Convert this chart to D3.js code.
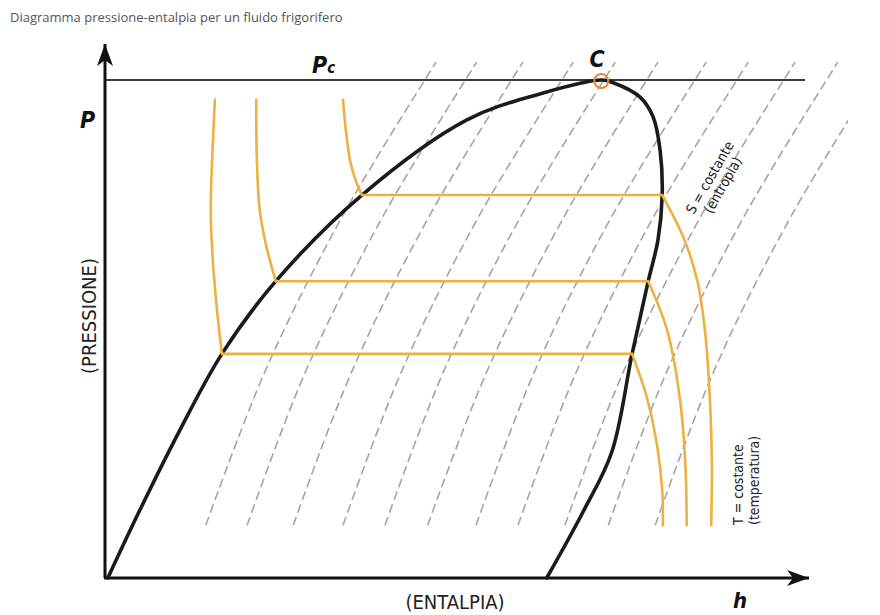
<!DOCTYPE html>
<html>
<head>
<meta charset="utf-8">
<script src="https://cdn.jsdelivr.net/npm/d3@7"></script>
<style>
body{margin:0;background:#fff;}
</style>
</head>
<body>
<div id="chart"></div>
<script>
// schematic p-h diagram, arbitrary units: h 0..100, p 0..100 (Pc = 100)
const domeLeft = [[0.4,0],[5.0,13.7],[10.7,29.7],[16.7,45.0],[24.4,59.6],[36.7,76.9],[51.7,92.0],[62.1,97.2],[70.9,100]];
const domeRight = [[72.7,99.4],[76.4,96.6],[78.3,92.6],[79.3,85.9],[79.6,76.9],[79.0,67.9],[77.6,59.6],[75.3,45.0],[72.4,25.3],[68.3,13.3],[63.1,0]];
const critical = [70.9, 100];

// isotherms: liquid branch, saturation pressure, vapour branch
const satPressure = [45.0, 59.6, 76.9];
const t1Liquid = [[15.7,96.0],[15.3,83.9],[15.1,73.9],[15.4,63.9],[16.0,53.8],[16.7,45.0]];
const t1Vapor  = [[75.3,45.0],[77.4,36.3],[78.9,26.3],[79.6,17.7],[79.7,10.6]];
const t2Liquid = [[21.6,96.0],[21.7,83.9],[22.1,73.9],[23.0,66.9],[24.4,59.6]];
const t2Vapor  = [[77.6,59.6],[80.3,49.8],[82.1,36.3],[82.9,23.1],[83.1,10.6]];
const t3Liquid = [[34.0,96.0],[34.4,90.0],[35.0,83.9],[35.7,80.3],[36.7,76.9]];
const t3Vapor  = [[79.6,76.9],[82.6,68.5],[84.6,59.8],[85.7,49.8],[86.4,36.3],[86.7,23.1],[86.6,10.6]];

// isentropes: h read at these pressure levels
const sLevels = [10.6, 41.6, 72.6, 103.6];
const sLines = [
	[14.4,22.9,33.9,47.3],
	[20.3,28.7,39.7,53.1],
	[26.9,35.3,46.3,59.7],
	[34.0,42.4,53.4,66.9],
	[40.0,48.4,59.4,72.9],
	[46.1,54.6,65.6,79.0],
	[53.0,61.4,72.4,85.9],
	[59.0,67.4,78.4,91.9],
	[65.7,74.1,85.1,98.6],
	[71.9,80.3,91.3,104.7],
	[78.6,87.0,98.0,111.4]
];

const W = 880, H = 615;
const orange = "#ecb13f";
const narrow = "'Liberation Sans Narrow','DejaVu Sans Condensed','Liberation Sans',sans-serif";

let svg = d3.select("#chart").append("svg").attr("width", W).attr("height", H);

let x = d3.scaleLinear().domain([0, 100]).range([105, 805]);
let y = d3.scaleLinear().domain([0, 100]).range([578, 80]);

let line = d3.line().x(d => x(d[0])).y(d => y(d[1])).curve(d3.curveCatmullRom.alpha(0.5));

svg.append("clipPath").attr("id", "clipS")
	.append("rect").attr("x", 0).attr("y", 0).attr("width", 848).attr("height", H);

// constant entropy lines
let sG = svg.append("g").attr("clip-path", "url(#clipS)");
sLines.forEach(function(hs){
	let pts = hs.map((h, i) => [h, sLevels[i]]);
	sG.append("path")
		.attr("d", line(pts))
		.attr("fill", "none")
		.attr("stroke", "#a4a4a4")
		.attr("stroke-width", 1.6)
		.attr("stroke-dasharray", "9,4.5");
});

// critical pressure line
svg.append("line")
	.attr("x1", x(0)).attr("x2", x(100))
	.attr("y1", y(100)).attr("y2", y(100))
	.attr("stroke", "#3a3a3a").attr("stroke-width", 2);

// axes with arrows
svg.append("defs").append("marker")
	.attr("id", "arrow")
	.attr("viewBox", "-24 -10 26 20")
	.attr("refX", 0).attr("refY", 0)
	.attr("markerWidth", 26).attr("markerHeight", 20)
	.attr("markerUnits", "userSpaceOnUse")
	.attr("orient", "auto")
	.append("path")
	.attr("d", "M0,0 L-22,-8 L-16,0 L-22,8 Z")
	.attr("fill", "#111");

svg.append("line")
	.attr("x1", x(0)).attr("y1", y(0))
	.attr("x2", x(0)).attr("y2", 44)
	.attr("stroke", "#111").attr("stroke-width", 3)
	.attr("marker-end", "url(#arrow)");
svg.append("line")
	.attr("x1", x(0) - 1).attr("y1", y(0))
	.attr("x2", 809).attr("y2", y(0))
	.attr("stroke", "#111").attr("stroke-width", 3)
	.attr("marker-end", "url(#arrow)");

// saturation dome
svg.append("path")
	.attr("d", line(domeLeft.concat(domeRight)))
	.attr("fill", "none")
	.attr("stroke", "#1b1b1b")
	.attr("stroke-width", 3.6)
	.attr("stroke-linecap", "round");

// isotherms
[[t1Liquid, t1Vapor], [t2Liquid, t2Vapor], [t3Liquid, t3Vapor]].forEach(function(iso, i){
	let g = svg.append("g")
		.attr("fill", "none")
		.attr("stroke", orange)
		.attr("stroke-width", 2.6)
		.attr("stroke-linejoin", "round")
		.attr("stroke-linecap", "round");
	g.append("path").attr("d", line(iso[0]));
	g.append("line")
		.attr("x1", x(iso[0][iso[0].length - 1][0])).attr("y1", y(satPressure[i]))
		.attr("x2", x(iso[1][0][0])).attr("y2", y(satPressure[i]));
	g.append("path").attr("d", line(iso[1]));
});

// critical point
svg.append("circle")
	.attr("cx", x(critical[0])).attr("cy", y(critical[1]) + 1)
	.attr("r", 7)
	.attr("fill", "none")
	.attr("stroke", "#e8853a")
	.attr("stroke-width", 2);

// labels
svg.append("text")
	.attr("x", 10).attr("y", 22)
	.style("font-family", "'Open Sans',sans-serif")
	.style("font-size", "13px")
	.attr("fill", "#555")
	.text("Diagramma pressione-entalpia per un fluido frigorifero");

svg.append("text")
	.attr("x", 597).attr("y", 67)
	.attr("text-anchor", "middle")
	.style("font-family", narrow)
	.style("font-size", "23px").style("font-weight", "bold").style("font-style", "italic")
	.attr("fill", "#111")
	.text("C");

let pc = svg.append("text")
	.attr("x", 312).attr("y", 73)
	.style("font-family", narrow)
	.style("font-weight", "bold").style("font-style", "italic")
	.attr("fill", "#111");
pc.append("tspan").style("font-size", "23px").text("P");
pc.append("tspan").style("font-size", "15px").text("c");

svg.append("text")
	.attr("x", 80).attr("y", 128)
	.style("font-family", narrow)
	.style("font-size", "23px").style("font-weight", "bold").style("font-style", "italic")
	.attr("fill", "#111")
	.text("P");

svg.append("text")
	.attr("x", 733).attr("y", 608)
	.style("font-family", narrow)
	.style("font-size", "22px").style("font-weight", "bold").style("font-style", "italic")
	.attr("fill", "#111")
	.text("h");

svg.append("text")
	.attr("transform", "translate(96,316) rotate(-90)")
	.attr("text-anchor", "middle")
	.style("font-family", narrow)
	.style("font-size", "20px")
	.attr("fill", "#222")
	.text("(PRESSIONE)");

svg.append("text")
	.attr("x", 455).attr("y", 609)
	.attr("text-anchor", "middle")
	.style("font-family", narrow)
	.style("font-size", "20px")
	.attr("fill", "#222")
	.text("(ENTALPIA)");

let sLab = svg.append("g")
	.attr("transform", "translate(714,180) rotate(-60)")
	.style("font-family", narrow)
	.style("font-size", "14px")
	.attr("fill", "#222")
	.attr("text-anchor", "middle");
sLab.append("text").attr("x", 0).attr("y", 0).text("S = costante");
sLab.append("text").attr("x", 0).attr("y", 15).text("(entropia)");

let tLab = svg.append("g")
	.attr("transform", "translate(743,525) rotate(-90)")
	.style("font-family", narrow)
	.style("font-size", "14px")
	.attr("fill", "#222");
tLab.append("text").attr("x", 0).attr("y", 0).text("T = costante");
tLab.append("text").attr("x", 0).attr("y", 16).text("(temperatura)");
</script>
</body>
</html>
